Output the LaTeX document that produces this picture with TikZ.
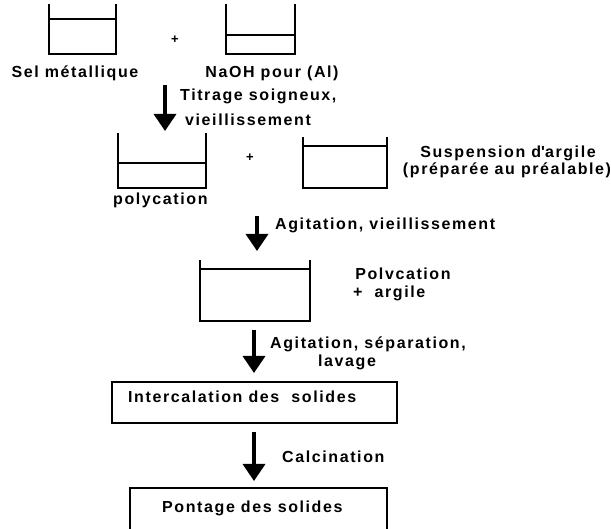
\documentclass[tikz,border=0pt]{standalone}
\usepackage{fontspec}
\setmainfont{Liberation Sans}[LetterSpace=10]
\usetikzlibrary{arrows.meta}
\begin{document}
\begin{tikzpicture}[x=1pt,y=-1pt,
  lbl/.style={font=\bfseries\fontsize{16}{18}\selectfont,inner sep=0pt},
  plus/.style={font=\bfseries\fontsize{13}{15}\selectfont,inner sep=0pt},
  beaker/.style={inner sep=0pt,outer sep=0pt},
  wall/.style={line width=2.4pt,line join=miter},
  liquid/.style={line width=2pt},
  stepbox/.style={draw,line width=2.6pt,inner sep=0pt,outer sep=0pt},
  bigarrow/.style={line width=3.5pt,-{Triangle[width=22pt,length=17pt]}}]
\useasboundingbox (0,0) rectangle (611,529);
\fill[white] (0,0) rectangle (611,529);

% beakers (drawn by their corners)
\newcommand{\beakerat}[6]{% name, left, top, right, bottom, liquid y
  \node[beaker,minimum width={#4-#2},minimum height={#5-#3},anchor=north west] (#1) at (#2,#3) {};
  \draw[wall] (#1.north west) -- (#1.south west) -- (#1.south east) -- (#1.north east);
  \draw[liquid] (#2,#6) -- (#4,#6);
}
\beakerat{b1}{49}{4}{116}{54}{19}
\beakerat{b2}{226}{4}{295}{54}{35}
\beakerat{b3}{118}{133}{206}{188}{163}
\beakerat{b4}{303}{137}{387}{188}{146}
\beakerat{b5}{200}{260}{310}{321}{269}

\node[plus] (p1) at (175,40) {+};
\node[plus] (p2) at (250,158) {+};

\node[lbl,anchor=base] (t1) at (75,78) {Sel métallique};
\node[lbl,anchor=base] (t2) at (272,78) {NaOH pour (Al)};
\node[lbl,anchor=base west] (t3) at (180,101) {Titrage soigneux,};
\node[lbl,anchor=base west] (t4) at (185,126) {vieillissement};
\node[lbl,anchor=base] (t5) at (508,158) {Suspension d\textquotesingle argile};
\node[lbl,anchor=base] (t6) at (507,175) {(préparée au préalable)};
\node[lbl,anchor=base west] (t7) at (113,205) {polycation};
\node[lbl,anchor=base west] (t8) at (275,230) {Agitation, vieillissement};
\node[lbl,anchor=base] (t9) at (403,280) {Polvcation};
\node[lbl,anchor=base west] (t10) at (353,298) {+~~argile};
\node[lbl,anchor=base west] (t11) at (270,349) {Agitation, séparation,};
\node[lbl,anchor=base west] (t12) at (318,367) {lavage};
\node[lbl,anchor=base west] (t13) at (282,463) {Calcination};

\node[stepbox,minimum width=285pt,minimum height=41pt,anchor=north west] (s1) at (112,382) {};
\node[lbl,anchor=base west] (s1t) at (128,403) {Intercalation des~~solides};
\node[stepbox,minimum width=257pt,minimum height=50pt,anchor=north west] (s2) at (130,488) {};
\node[lbl,anchor=base west] (s2t) at (162,512) {Pontage des solides};

\coordinate (a1s) at (165,85);  \coordinate (a1e) at (165,131);
\coordinate (a2s) at (257,216); \coordinate (a2e) at (257,251);
\coordinate (a3s) at (254,330); \coordinate (a3e) at (254,373);
\coordinate (a4s) at (254,432); \coordinate (a4e) at (254,481);
\draw[bigarrow] (a1s) -- (a1e);
\draw[bigarrow] (a2s) -- (a2e);
\draw[bigarrow] (a3s) -- (a3e);
\draw[bigarrow] (a4s) -- (a4e);
\end{tikzpicture}
\end{document}
